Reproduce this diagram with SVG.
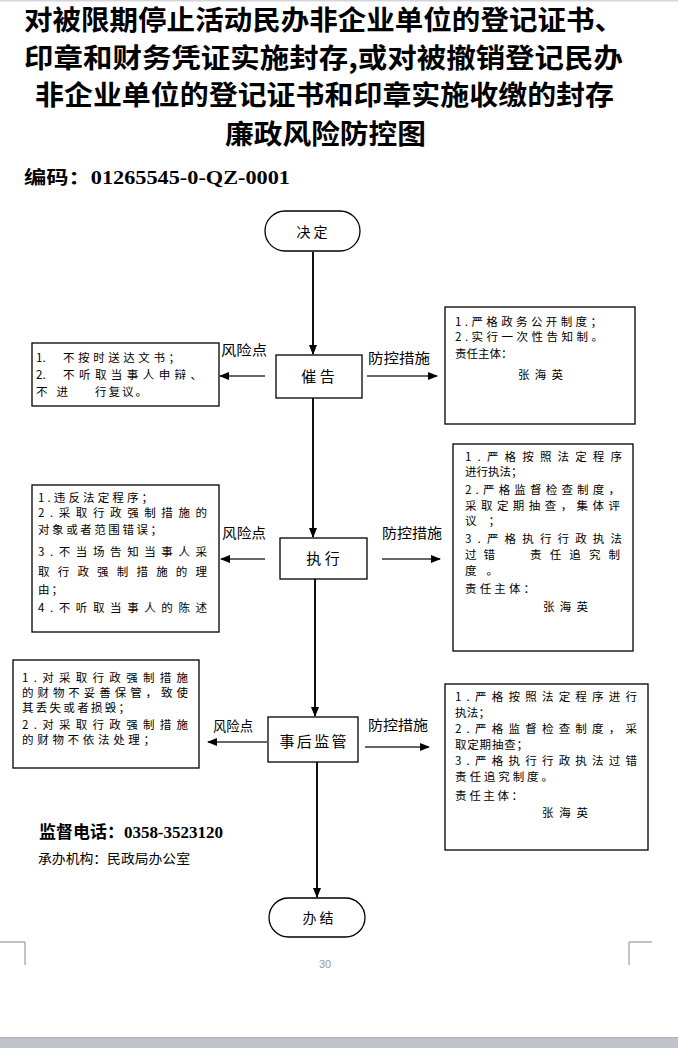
<svg xmlns="http://www.w3.org/2000/svg" width="678" height="1048" viewBox="0 0 678 1048">
<style>
.t{font-family:"Noto Sans CJK SC","Noto Sans",sans-serif;fill:#000}
.title{font-size:27.5px;font-weight:700}
.bx{font-size:11.5px}
.lb{font-size:13.5px}
.nd{font-size:15px}
.box{fill:#fff;stroke:#000;stroke-width:1.3}
.ln{stroke:#111;stroke-width:2;fill:none}
.hl{stroke:#333;stroke-width:1.5;fill:none}
.num{font-family:"Liberation Serif","Noto Sans CJK SC",serif;font-weight:700}
</style>
<defs>
<marker id="ah" markerUnits="userSpaceOnUse" markerWidth="10" markerHeight="8" refX="9" refY="4" orient="auto">
<path d="M0,0 L10,4 L0,8 Z" fill="#000"/>
</marker>
</defs>
<rect x="0" y="0" width="678" height="1048" fill="#fff"/>
<rect x="0" y="0" width="678" height="1.5" fill="#d4d5dc"/>
<g id="title">
<text class="t title" x="24" y="30" textLength="599" lengthAdjust="spacingAndGlyphs">对被限期停止活动民办非企业单位的登记证书、</text>
<text class="t title" x="24" y="68" textLength="599" lengthAdjust="spacingAndGlyphs">印章和财务凭证实施封存,或对被撤销登记民办</text>
<text class="t title" x="35" y="105" textLength="579" lengthAdjust="spacingAndGlyphs">非企业单位的登记证书和印章实施收缴的封存</text>
<text class="t title" x="225" y="144" textLength="201" lengthAdjust="spacingAndGlyphs">廉政风险防控图</text>
<text class="t" x="24" y="184" font-size="18" font-weight="700" textLength="266" lengthAdjust="spacingAndGlyphs">编码：<tspan class="num">01265545-0-QZ-0001</tspan></text>
</g>
<g id="connectors">
<line class="ln" x1="313" y1="252" x2="313" y2="354" marker-end="url(#ah)"/>
<line class="ln" x1="313" y1="398" x2="313" y2="537" marker-end="url(#ah)"/>
<line class="ln" x1="315" y1="579" x2="315" y2="716" marker-end="url(#ah)"/>
<line class="ln" x1="317" y1="762" x2="317" y2="897" marker-end="url(#ah)"/>
<line class="hl" x1="265" y1="376" x2="220" y2="376" marker-end="url(#ah)"/>
<line class="hl" x1="367" y1="376" x2="437" y2="376" marker-end="url(#ah)"/>
<line class="hl" x1="265" y1="559" x2="221" y2="559" marker-end="url(#ah)"/>
<line class="hl" x1="382" y1="559" x2="440" y2="559" marker-end="url(#ah)"/>
<line class="hl" x1="267" y1="742" x2="208" y2="742" marker-end="url(#ah)"/>
<line class="hl" x1="365" y1="747" x2="429" y2="747" marker-end="url(#ah)"/>
<text class="t lb" x="221" y="355" textLength="46" lengthAdjust="spacingAndGlyphs">风险点</text>
<text class="t lb" x="368" y="363" textLength="62" lengthAdjust="spacingAndGlyphs">防控措施</text>
<text class="t lb" x="222" y="538" textLength="44" lengthAdjust="spacingAndGlyphs">风险点</text>
<text class="t lb" x="382" y="538" textLength="60" lengthAdjust="spacingAndGlyphs">防控措施</text>
<text class="t lb" x="213" y="731" textLength="40" lengthAdjust="spacingAndGlyphs">风险点</text>
<text class="t lb" x="368" y="730" textLength="60" lengthAdjust="spacingAndGlyphs">防控措施</text>
</g>
<g id="n-start">
<rect class="box" x="265" y="211" width="95" height="40" rx="20"/>
<text class="t" x="312" y="237" font-size="14" text-anchor="middle">决 定</text>
</g>
<g id="n-cuigao">
<rect class="box" x="276" y="355" width="86" height="43"/>
<text class="t nd" x="318" y="382" text-anchor="middle">催 告</text>
</g>
<g id="risk1">
<rect class="box" x="32" y="343" width="187" height="63"/>
<text class="t bx" x="36" y="362">1.</text>
<text class="t bx" x="63" y="362" textLength="117" lengthAdjust="spacing">不按时送达文书；</text>
<text class="t bx" x="36" y="379">2.</text>
<text class="t bx" x="63" y="379" textLength="139" lengthAdjust="spacing">不听取当事人申辩、</text>
<text class="t bx" x="36" y="396" textLength="32" lengthAdjust="spacing">不进</text>
<text class="t bx" x="95" y="396" textLength="52" lengthAdjust="spacing">行复议。</text>
</g>
<g id="measure1">
<rect class="box" x="445" y="307" width="190" height="117"/>
<text class="t bx" x="455" y="326" textLength="147" lengthAdjust="spacing">1.严格政务公开制度；</text>
<text class="t bx" x="455" y="341" textLength="148" lengthAdjust="spacing">2.实行一次性告知制。</text>
<text class="t bx" x="455" y="358">责任主体：</text>
<text class="t bx" x="518" y="379" textLength="45" lengthAdjust="spacing">张海英</text>
</g>
<g id="n-zhixing">
<rect class="box" x="280" y="538" width="87" height="41"/>
<text class="t nd" x="323" y="564" text-anchor="middle">执 行</text>
</g>
<g id="risk2">
<rect class="box" x="32" y="485" width="187" height="147"/>
<text class="t bx" x="38" y="502" textLength="115" lengthAdjust="spacing">1.违反法定程序；</text>
<text class="t bx" x="38" y="517" textLength="169" lengthAdjust="spacing">2.采取行政强制措施的</text>
<text class="t bx" x="38" y="534" textLength="124" lengthAdjust="spacing">对象或者范围错误；</text>
<text class="t bx" x="38" y="556" textLength="169" lengthAdjust="spacing">3.不当场告知当事人采</text>
<text class="t bx" x="38" y="576" textLength="169" lengthAdjust="spacing">取行政强制措施的理</text>
<text class="t bx" x="38" y="594" textLength="25" lengthAdjust="spacing">由；</text>
<text class="t bx" x="38" y="612" textLength="169" lengthAdjust="spacing">4.不听取当事人的陈述</text>
</g>
<g id="measure2">
<rect class="box" x="453" y="444" width="180" height="207"/>
<text class="t bx" x="465" y="461" textLength="157" lengthAdjust="spacing">1.严格按照法定程序</text>
<text class="t bx" x="465" y="476">进行执法；</text>
<text class="t bx" x="465" y="494" textLength="155" lengthAdjust="spacing">2.严格监督检查制度，</text>
<text class="t bx" x="465" y="510" textLength="155" lengthAdjust="spacing">采取定期抽查，集体评</text>
<text class="t bx" x="465" y="525" textLength="35" lengthAdjust="spacing">议；</text>
<text class="t bx" x="465" y="543" textLength="157" lengthAdjust="spacing">3.严格执行行政执法</text>
<text class="t bx" x="465" y="559" textLength="30" lengthAdjust="spacing">过错</text>
<text class="t bx" x="530" y="559" textLength="90" lengthAdjust="spacing">责任追究制</text>
<text class="t bx" x="465" y="575" textLength="33" lengthAdjust="spacing">度。</text>
<text class="t bx" x="465" y="593" textLength="70" lengthAdjust="spacing">责任主体：</text>
<text class="t bx" x="543" y="611" textLength="45" lengthAdjust="spacing">张海英</text>
</g>
<g id="n-shihou">
<rect class="box" x="268" y="717" width="90" height="45"/>
<text class="t nd" x="313" y="747" text-anchor="middle" textLength="67" lengthAdjust="spacing">事后监管</text>
</g>
<g id="risk3">
<rect class="box" x="13" y="660" width="186" height="108"/>
<text class="t bx" x="22" y="682" textLength="166" lengthAdjust="spacing">1.对采取行政强制措施</text>
<text class="t bx" x="22" y="697" textLength="166" lengthAdjust="spacing">的财物不妥善保管，致使</text>
<text class="t bx" x="22" y="712" textLength="108" lengthAdjust="spacing">其丢失或者损毁；</text>
<text class="t bx" x="22" y="729" textLength="166" lengthAdjust="spacing">2.对采取行政强制措施</text>
<text class="t bx" x="22" y="744" textLength="133" lengthAdjust="spacing">的财物不依法处理；</text>
</g>
<g id="measure3">
<rect class="box" x="445" y="684" width="203" height="166"/>
<text class="t bx" x="455" y="701" textLength="182" lengthAdjust="spacing">1.严格按照法定程序进行</text>
<text class="t bx" x="455" y="717" textLength="35" lengthAdjust="spacing">执法；</text>
<text class="t bx" x="455" y="733" textLength="182" lengthAdjust="spacing">2.严格监督检查制度，采</text>
<text class="t bx" x="455" y="749" textLength="73" lengthAdjust="spacing">取定期抽查；</text>
<text class="t bx" x="455" y="765" textLength="182" lengthAdjust="spacing">3.严格执行行政执法过错</text>
<text class="t bx" x="455" y="781" textLength="98" lengthAdjust="spacing">责任追究制度。</text>
<text class="t bx" x="455" y="800" textLength="68" lengthAdjust="spacing">责任主体：</text>
<text class="t bx" x="542" y="817" textLength="46" lengthAdjust="spacing">张海英</text>
</g>
<g id="n-end">
<rect class="box" x="269" y="898" width="96" height="39" rx="19.5"/>
<text class="t" x="318" y="923" font-size="14" text-anchor="middle">办 结</text>
</g>
<g id="footer">
<text class="t" x="39" y="838" font-size="17" font-weight="700" textLength="184" lengthAdjust="spacingAndGlyphs">监督电话：<tspan class="num">0358-3523120</tspan></text>
<text class="t" x="38" y="863" font-size="13" textLength="152" lengthAdjust="spacingAndGlyphs">承办机构：民政局办公室</text>
<path d="M0,942 H25 V965 M629,965 V942 H652" fill="none" stroke="#888" stroke-width="1"/>
<text x="325" y="968" font-family="Liberation Sans,sans-serif" font-size="11" fill="#999" text-anchor="middle">30</text>
<rect x="0" y="1037" width="678" height="11" fill="#c1c3cc"/>
<rect x="0" y="1037" width="678" height="1" fill="#aeb0b8"/>
</g>
</svg>
